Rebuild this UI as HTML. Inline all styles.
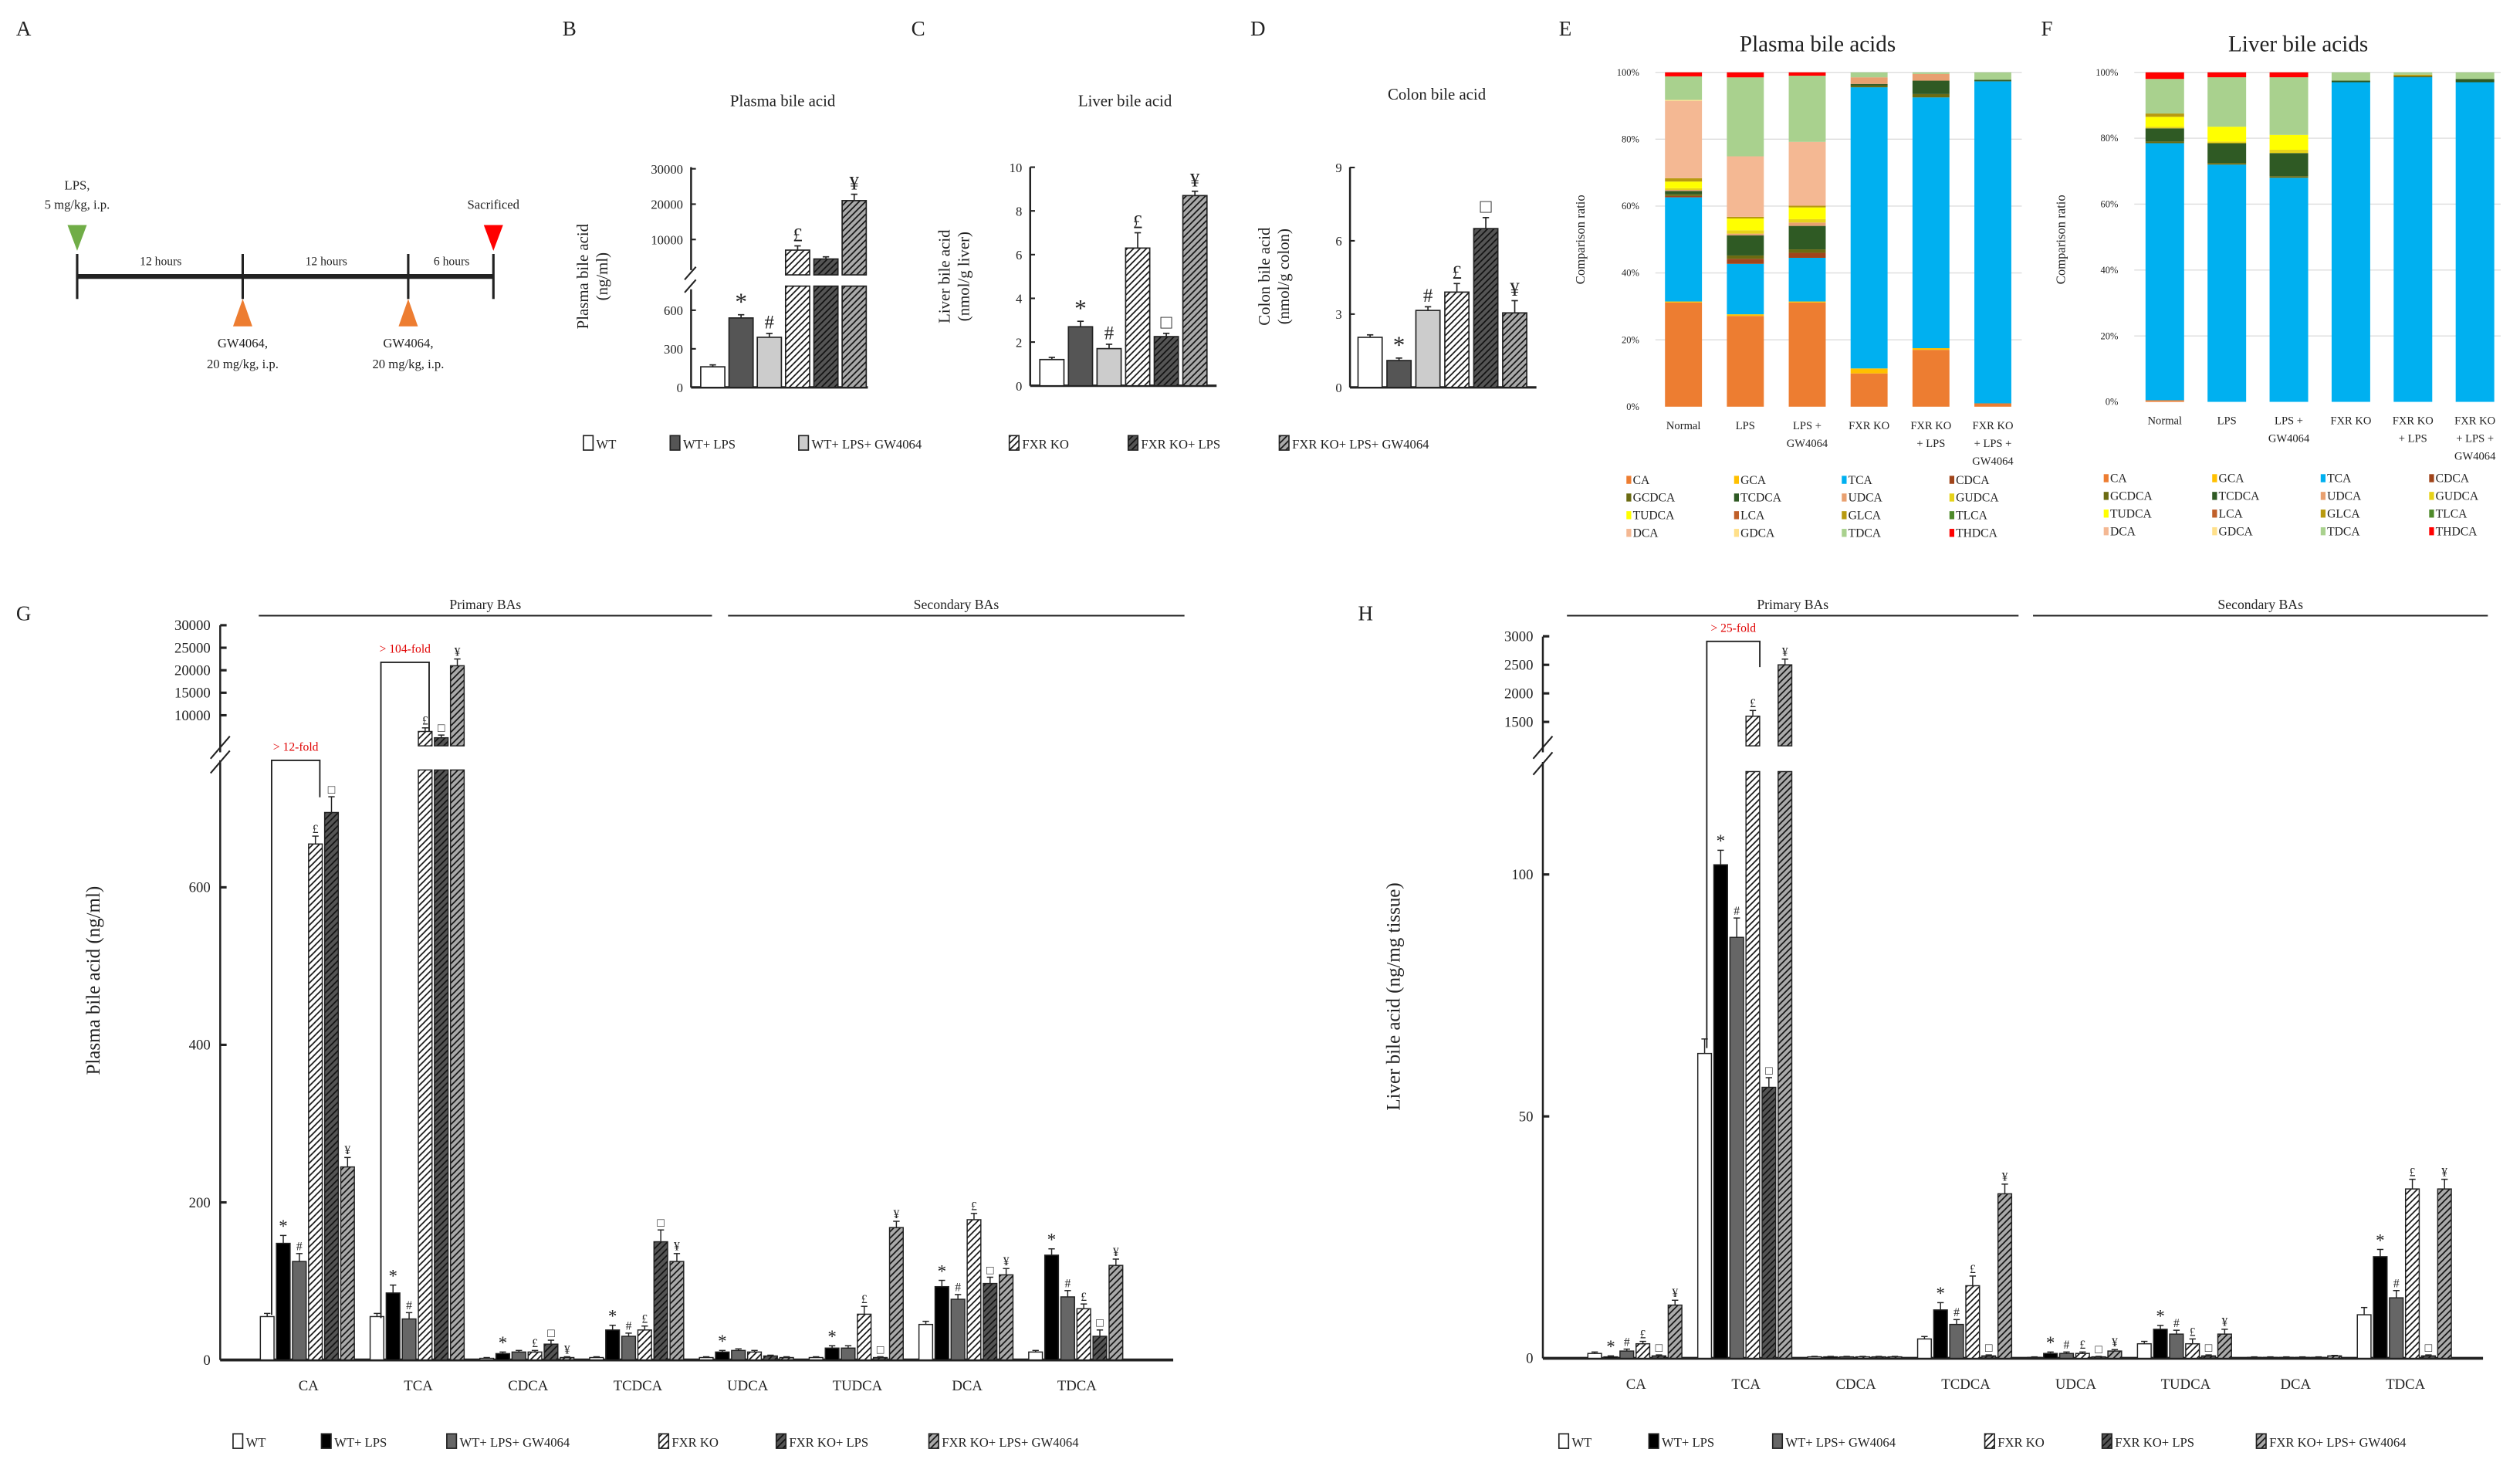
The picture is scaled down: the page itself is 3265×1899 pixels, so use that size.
<!DOCTYPE html>
<html><head><meta charset="utf-8">
<style>
html,body{margin:0;padding:0;background:#fff;}
svg{display:block;font-family:"Liberation Serif",serif;}
</style></head>
<body>
<svg id="fig" width="3265" height="1899" viewBox="0 0 1568 912" xmlns="http://www.w3.org/2000/svg">
<defs>
<pattern id="hW" patternUnits="userSpaceOnUse" width="4" height="4"><rect width="4" height="4" fill="#fff"/><path d="M-1,5 L5,-1 M-1,1 L1,-1 M3,5 L5,3" stroke="#111" stroke-width="0.8"/></pattern>
<pattern id="hD" patternUnits="userSpaceOnUse" width="4" height="4"><rect width="4" height="4" fill="#555"/><path d="M-1,5 L5,-1 M-1,1 L1,-1 M3,5 L5,3" stroke="#111" stroke-width="0.8"/></pattern>
<pattern id="hL" patternUnits="userSpaceOnUse" width="4" height="4"><rect width="4" height="4" fill="#aaa"/><path d="M-1,5 L5,-1 M-1,1 L1,-1 M3,5 L5,3" stroke="#111" stroke-width="0.8"/></pattern>
</defs>
<g id="root"></g>
</svg>
<script>
// ---------- data ----------
const groupNames = ['WT','WT+ LPS','WT+ LPS+ GW4064','FXR KO','FXR KO+ LPS','FXR KO+ LPS+ GW4064'];
const plasmaTotal = [160,540,390,7000,4500,21000];
const plasmaErr = [15,25,30,1200,600,1800];
const plasmaMarks = ['','*','#','£','','¥'];
const liverTotal = [1.2,2.7,1.7,6.3,2.25,8.7];
const liverErr = [0.1,0.25,0.2,0.7,0.15,0.2];
const liverMarks = ['','*','#','£','□','¥'];
const colonTotal = [2.05,1.1,3.15,3.9,6.5,3.05];
const colonErr = [0.1,0.1,0.15,0.35,0.45,0.5];
const colonMarks = ['','*','#','£','□','¥'];

const compCategories = ['Normal','LPS','LPS +|GW4064','FXR KO','FXR KO|+ LPS','FXR KO|+ LPS +|GW4064'];
const species = ['CA','GCA','TCA','CDCA','GCDCA','TCDCA','UDCA','GUDCA','TUDCA','LCA','GLCA','TLCA','DCA','GDCA','TDCA','THDCA'];
const speciesColors = ['#ED7D31','#FFC000','#00B0F0','#A0441A','#6B6B12','#2F5A24','#E8A070','#E6D21A','#FFFF00','#C0602A','#B89A10','#4E8A2A','#F4B893','#FFE08A','#A9D18E','#FF0000'];
const plasmaComp = [
 [31,27,31,10,17,1],[0.3,0.5,0.3,1.5,0.5,0],[31,15,13,84.5,75,96.3],[0.4,1.5,1.5,0,0,0],
 [0.5,1,1,0.5,1,0],[1,6,7,0.5,4,0.5],[0.3,0.5,1,2,2,0],[0.5,1,1,0,0,0],
 [2,3.5,3.5,0,0,0],[0,0,0,0,0,0],[1,0.5,0.5,0,0,0],[0,0,0,0,0,0],
 [23,18,19,0,0,0],[0.3,0,0,0,0,0],[7,23.5,19.7,1.5,0.5,2.2],[1.2,1.5,1,0,0,0]];
const liverComp = [
 [0.5,0,0,0,0,0],[0,0,0,0,0,0],[78,72,68,97,98.5,97],[0,0,0,0,0,0],
 [0.5,0.5,0.5,0,0,0],[4,6,7,0.5,0.3,1],[0,0,0,0,0,0],[0.5,0.5,1,0,0,0],
 [3,4.5,4.5,0,0,0],[0,0,0,0,0,0],[1,0,0,0,0.5,0],[0,0,0,0,0,0],
 [0,0,0,0,0,0],[0,0,0,0,0,0],[10.5,15,17.5,2.5,0.7,2],[2,1.5,1.5,0,0,0]];
const pctTicks = ['0%','20%','40%','60%','80%','100%'];

const baCategories = ['CA','TCA','CDCA','TCDCA','UDCA','TUDCA','DCA','TDCA'];
const gWT   = [55,55,2,3,3,3,45,10];
const gLPS  = [148,85,8,38,10,15,93,133];
const gGW   = [125,52,10,30,12,15,77,80];
const gKO   = [655,6400,10,38,10,58,178,65];
const gKOL  = [695,5000,20,150,5,3,97,30];
const gKOLG = [245,21000,3,125,3,168,108,120];
const gErrWT=[4,4,1,1,1,1,4,2], gErrLPS=[10,10,2,6,2,3,8,8], gErrGW=[10,8,2,4,2,3,6,8];
const gErrKO=[10,800,2,5,2,10,8,6], gErrKOL=[20,600,5,15,1,1,8,8], gErrKOLG=[12,1500,1,10,1,8,8,8];
const gMarks = [['','','','','','','',''],['*','*','*','*','*','*','*','*'],['#','#','','#','','','#','#'],
 ['£','£','£','£','','£','£','£'],['□','□','□','□','','□','□','□'],['¥','¥','¥','¥','','¥','¥','¥']];
const gTicksLow = [0,200,400,600];
const gTicksUp = [10000,15000,20000,25000,30000];

const hWT   = [1,63,0.3,4,0.2,3,0.2,9];
const hLPS  = [0.3,102,0.3,10,1,6,0.2,21];
const hGW   = [1.5,87,0.3,7,1,5,0.2,12.5];
const hKO   = [3,1600,0.3,15,1,3,0.2,35];
const hKOL  = [0.5,56,0.3,0.5,0.3,0.5,0.2,0.5];
const hKOLG = [11,2500,0.3,34,1.5,5,0.5,35];
const hErrWT=[0.3,3,0.1,0.5,0.1,0.5,0.1,1.5], hErrLPS=[0.2,3,0.1,1.5,0.3,0.8,0.1,1.5], hErrGW=[0.4,4,0.1,1,0.3,0.8,0.1,1.5];
const hErrKO=[0.5,100,0.1,2,0.3,1,0.1,2], hErrKOL=[0.2,2,0.1,0.2,0.1,0.2,0.1,0.2], hErrKOLG=[1,100,0.1,2,0.3,1,0.1,2];
const hMarks = [['','','','','','','',''],['*','*','','*','*','*','','*'],['#','#','','#','#','#','','#'],
 ['£','£','','£','£','£','','£'],['□','□','','□','□','□','','□'],['¥','¥','','¥','¥','¥','','¥']];
const hTicksLow = [0,50,100];
const hTicksUp = [1500,2000,2500,3000];

// ---------- helpers ----------
const NS='http://www.w3.org/2000/svg';
const root=document.getElementById('root');
function el(tag,attrs,parent,txt){const e=document.createElementNS(NS,tag);for(const k in attrs)e.setAttribute(k,attrs[k]);if(txt!==undefined)e.textContent=txt;(parent||root).appendChild(e);return e;}
function grp(name,parent){const g=el('g',{},parent);


return g;}
function txt(parent,name,x,y,s,size,anchor,extra){const t=el('text',Object.assign({x:x,y:y,'font-size':size,'text-anchor':anchor||'middle',fill:'#222'},extra||{}),parent,s);


return t;}
function line(p,x1,y1,x2,y2,w,c){return el('line',{x1:x1,y1:y1,x2:x2,y2:y2,stroke:c||'#222','stroke-width':w||1},p);}

const fillsBCD=['#fff','#555','#ccc','url(#hW)','url(#hD)','url(#hL)'];
const fillsGH=['#fff','#000','#666','url(#hW)','url(#hD)','url(#hL)'];

function makeScale(c){return function(v){
  if(!c.up||v<=c.lowMax) return {low:c.y0-v*c.lowK, up:null};
  return {low:c.lowTop, up:c.upY0-(v-c.upV0)*c.upK};
};}

// ---------- panel letters ----------
[['A',10,22],['B',350,22],['C',567,22],['D',778,22],['E',970,22],['F',1270,22],['G',10,386],['H',845,386]].forEach(p=>{
  txt(root,'panel-label-'+p[0].toLowerCase(),p[1],p[2],p[0],13,'start');
});

// ---------- Panel A timeline ----------
(function(){
  const g=grp('timeline-panel-a');
  line(g,48,172,307,172,3);
  [48,151,254,307].forEach(x=>line(g,x,158,x,186,1.5));
  [[100,'12 hours'],[203,'12 hours'],[281,'6 hours']].forEach(a=>txt(g,'interval-label',a[0],165,a[1],7.5));
  const tri=(pts,c,n)=>{const p=el('polygon',{points:pts,fill:c},g);
  
  };
  tri('42,140 54,140 48,156','#70AD47','lps-marker');
  tri('301,140 313,140 307,156','#FF0000','sacrifice-marker');
  tri('145,203 157,203 151,186','#ED7D31','gw4064-marker-1');
  tri('248,203 260,203 254,186','#ED7D31','gw4064-marker-2');
  txt(g,'lps-label',48,118,'LPS,',8);txt(g,'lps-dose',48,130,'5 mg/kg, i.p.',8);
  txt(g,'sacrificed-label',307,130,'Sacrificed',8);
  [151,254].forEach(x=>{txt(g,'gw4064-label',x,216,'GW4064,',8);txt(g,'gw4064-dose',x,229,'20 mg/kg, i.p.',8);});
})();

// ---------- simple bar charts B/C/D ----------
function barChart(name,cfg,vals,errs,marks){
  const g=grp(name);
  const sc=makeScale(cfg);
  txt(g,'chart-title',cfg.titleX,cfg.titleY,cfg.title,10);
  const yl=el('text',{transform:`translate(${cfg.ylX},${cfg.ylY}) rotate(-90)`,'font-size':10,'text-anchor':'middle',fill:'#222'},g);
  
  
  cfg.ylab.forEach((s,i)=>{el('tspan',{x:0,dy:i?12:0},yl,s);});
  if(cfg.up){
    line(g,cfg.ax,cfg.y0,cfg.ax,cfg.lowTop+2,1.2);
    line(g,cfg.ax,cfg.upY0-3,cfg.ax,cfg.upTopY,1.2);
    line(g,cfg.ax-4,cfg.lowTop+4,cfg.ax+3,cfg.lowTop-4,1);
    line(g,cfg.ax-4,cfg.upY0+3,cfg.ax+3,cfg.upY0-5,1);
  } else line(g,cfg.ax,cfg.y0,cfg.ax,cfg.topY,1.2);
  line(g,cfg.ax,cfg.y0,cfg.xEnd,cfg.y0,1.5);
  cfg.ticks.forEach(t=>{const y=cfg.y0-t*cfg.lowK;line(g,cfg.ax,y,cfg.ax+3,y,1);txt(g,'y-tick-label',cfg.ax-5,y+3,String(t),8,'end');});
  (cfg.upTicks||[]).forEach(t=>{const y=cfg.upY0-(t-cfg.upV0)*cfg.upK;line(g,cfg.ax,y,cfg.ax+3,y,1);txt(g,'y-tick-label',cfg.ax-5,y+3,String(t),8,'end');});
  vals.forEach((v,i)=>{
    const x=cfg.bx+i*cfg.pitch, w=cfg.bw, s=sc(v);
    const r=el('rect',{x:x,y:s.low,width:w,height:cfg.y0-s.low,fill:fillsBCD[i],stroke:'#222','stroke-width':0.8},g);
    
    
    let top=s.low;
    if(s.up!==null){
      const r2=el('rect',{x:x,y:s.up,width:w,height:cfg.upY0-s.up,fill:fillsBCD[i],stroke:'#222','stroke-width':0.8},g);
      
      
      top=s.up;
    }
    const e=errs[i]*(s.up!==null?cfg.upK:cfg.lowK), cx=x+w/2;
    line(g,cx,top,cx,top-e,0.8);line(g,cx-2,top-e,cx+2,top-e,0.8);
    if(marks[i])txt(g,'significance-mark',cx,top-e-3,marks[i],marks[i]=='*'?15:12);
  });
}
barChart('plasma-bile-acid-chart',{title:'Plasma bile acid',titleX:487,titleY:66,ylab:['Plasma bile acid','(ng/ml)'],ylX:366,ylY:172,
  ax:430,xEnd:540,y0:241,lowK:0.08,lowMax:780,lowTop:178,up:true,upY0:171,upV0:0,upK:0.0022,upTopY:104,
  ticks:[0,300,600],upTicks:[10000,20000,30000],bx:436,pitch:17.6,bw:15},plasmaTotal,plasmaErr,plasmaMarks);
barChart('liver-bile-acid-chart',{title:'Liver bile acid',titleX:700,titleY:66,ylab:['Liver bile acid','(nmol/g liver)'],ylX:591,ylY:172,
  ax:641,xEnd:757,y0:240,lowK:13.6,topY:104,ticks:[0,2,4,6,8,10],bx:647,pitch:17.8,bw:15},liverTotal,liverErr,liverMarks);
barChart('colon-bile-acid-chart',{title:'Colon bile acid',titleX:894,titleY:62,ylab:['Colon bile acid','(nmol/g colon)'],ylX:790,ylY:172,
  ax:840,xEnd:956,y0:241,lowK:15.2,topY:104,ticks:[0,3,6,9],bx:845,pitch:18,bw:15},colonTotal,colonErr,colonMarks);

function legendRow(name,items,y,fills){
  const g=grp(name);
  items.forEach((it,i)=>{
    const r=el('rect',{x:it[0],y:y-8,width:6,height:9,fill:fills[i],stroke:'#222','stroke-width':0.8},g);
    
    
    txt(g,'legend-entry',it[0]+8,y,groupNames[i],8,'start');
  });
}
legendRow('legend-bcd',[[363],[417],[497],[628],[702],[796]],279,fillsBCD);

// ---------- stacked composition charts ----------
function stacked(name,cfg,comp){
  const g=grp(name);
  txt(g,'chart-title',cfg.titleX,32,cfg.title,14);
  txt(g,'y-axis-title',0,0,'Comparison ratio',8,'middle',{transform:`translate(${cfg.ylX},149) rotate(-90)`});
  const k=(cfg.y0-cfg.y100)/100;
  pctTicks.forEach((t,i)=>{const y=cfg.y0-i*20*k;
    if(i>0){line(g,cfg.x0,y,cfg.x1,y,0.7,'#ddd');}
    txt(g,'y-tick-label',cfg.tx,y+2,t,6,'end');});
  compCategories.forEach((c,j)=>{
    let tot=0;comp.forEach(s=>tot+=s[j]);
    let acc=0;const x=cfg.bx+j*cfg.pitch;
    comp.forEach((s,i)=>{ if(!s[j])return;
      const h=s[j]/tot*100*k, y=cfg.y0-acc-h;
      const r=el('rect',{x:x,y:y,width:cfg.bw,height:h,fill:speciesColors[i]},g);
      
      
      acc+=h;});
    c.split('|').forEach((s,li)=>txt(g,'x-tick-label',x+cfg.bw/2,cfg.y0+14+li*11,s,7));
  });
  species.forEach((s,i)=>{
    const col=i%4,row=Math.floor(i/4),x=cfg.lx+col*cfg.lp,y=cfg.ly+row*11;
    const r=el('rect',{x:x,y:y-5,width:3,height:5,fill:speciesColors[i]},g);
    
    
    txt(g,'legend-entry',x+4,y,s,7.5,'start');
  });
}
stacked('plasma-composition-chart',{title:'Plasma bile acids',titleX:1131,ylX:986,y0:253,y100:45,x0:1030,x1:1258,tx:1020,bx:1036,pitch:38.5,bw:23,lx:1012,lp:67,ly:301},plasmaComp);
stacked('liver-composition-chart',{title:'Liver bile acids',titleX:1430,ylX:1285,y0:250,y100:45,x0:1328,x1:1556,tx:1318,bx:1335,pitch:38.6,bw:24,lx:1309,lp:67.5,ly:300},liverComp);

// ---------- grouped charts G/H ----------
function grouped(name,cfg,series,errs,marks){
  const g=grp(name);
  const sc=makeScale(cfg);
  txt(g,'y-axis-title',0,0,cfg.ylab,12,'middle',{transform:`translate(${cfg.ylX},${cfg.ylY}) rotate(-90)`});
  line(g,cfg.ax,cfg.y0,cfg.ax,cfg.lowTop-6,1.2);
  line(g,cfg.ax,cfg.upY0+4,cfg.ax,cfg.upTopY,1.2);
  line(g,cfg.ax-6,cfg.lowTop+2,cfg.ax+6,cfg.lowTop-12,1);
  line(g,cfg.ax-6,cfg.upY0+8,cfg.ax+6,cfg.upY0-6,1);
  line(g,cfg.ax,cfg.y0,cfg.xEnd,cfg.y0,1.8);
  cfg.ticksLow.forEach(t=>{const y=cfg.y0-t*cfg.lowK;line(g,cfg.ax,y,cfg.ax+4,y,1.5);txt(g,'y-tick-label',cfg.ax-6,y+3,String(t),9,'end');});
  cfg.ticksUp.forEach(t=>{const y=cfg.upY0-(t-cfg.upV0)*cfg.upK;line(g,cfg.ax,y,cfg.ax+4,y,1.5);txt(g,'y-tick-label',cfg.ax-6,y+3,String(t),9,'end');});
  baCategories.forEach((c,ci)=>{
    const cx=cfg.c0+ci*cfg.cp;
    txt(g,'x-tick-label',cx,cfg.y0+19,c,9);
    series.forEach((arr,si)=>{
      const v=arr[ci],x=cx-3*cfg.pitch+si*cfg.pitch,w=cfg.bw,s=sc(v);
      const r=el('rect',{x:x,y:s.low,width:w,height:Math.max(0.5,cfg.y0-s.low),fill:fillsGH[si],stroke:'#222','stroke-width':0.7},g);
      
      
      let top=s.low,k=cfg.lowK;
      if(s.up!==null){
        const r2=el('rect',{x:x,y:s.up,width:w,height:cfg.upY0-s.up,fill:fillsGH[si],stroke:'#222','stroke-width':0.7},g);
        
        
        top=s.up;k=cfg.upK;
      }
      const e=errs[si][ci]*k,bx=x+w/2;
      line(g,bx,top,bx,top-e,0.7);line(g,bx-2,top-e,bx+2,top-e,0.7);
      const m=marks[si][ci];
      if(m)txt(g,'significance-mark',bx,top-e-2,m,m=='*'?11:7.5);
    });
  });
  line(g,cfg.pL[0],383,cfg.pL[1],383,1);
  line(g,cfg.sL[0],383,cfg.sL[1],383,1);
  txt(g,'primary-bas-label',(cfg.pL[0]+cfg.pL[1])/2,379,'Primary BAs',8.5);
  txt(g,'secondary-bas-label',(cfg.sL[0]+cfg.sL[1])/2,379,'Secondary BAs',8.5);
  cfg.brackets.forEach(b=>{
    el('polyline',{points:`${b[0]},${b[2]} ${b[0]},${b[1]} ${b[3]},${b[1]} ${b[3]},${b[4]}`,fill:'none',stroke:'#222','stroke-width':0.9},g);
    txt(g,'fold-change-annotation',(b[0]+b[3])/2,b[1]-6,b[5],7.5,'middle',{fill:'#e00000'});
  });
}
grouped('plasma-bile-acid-species-chart',{ylab:'Plasma bile acid (ng/ml)',ylX:62,ylY:610,ax:137,xEnd:730,y0:846,lowK:0.49,lowMax:749,lowTop:479,up:true,
  upY0:464,upV0:3200,upK:0.0028,upTopY:389,ticksLow:gTicksLow,ticksUp:gTicksUp,c0:192,cp:68.3,pitch:10,bw:8.5,
  pL:[161,443],sL:[453,737],brackets:[[169,473,818,199,496,'> 12-fold'],[237,412,820,267,455,'> 104-fold']]},
  [gWT,gLPS,gGW,gKO,gKOL,gKOLG],[gErrWT,gErrLPS,gErrGW,gErrKO,gErrKOL,gErrKOLG],gMarks);
grouped('liver-bile-acid-species-chart',{ylab:'Liver bile acid (ng/mg tissue)',ylX:871,ylY:620,ax:960,xEnd:1545,y0:845,lowK:3.01,lowMax:121,lowTop:480,up:true,
  upY0:464,upV0:1080,upK:0.0355,upTopY:396,ticksLow:hTicksLow,ticksUp:hTicksUp,c0:1018,cp:68.4,pitch:10,bw:8.5,
  pL:[975,1256],sL:[1265,1548],brackets:[[1062,399,652,1095,415,'> 25-fold']]},
  [hWT,hLPS,hGW,hKO,hKOL,hKOLG],[hErrWT,hErrLPS,hErrGW,hErrKO,hErrKOL,hErrKOLG],hMarks);

legendRow('legend-g',[[145],[200],[278],[410],[483],[578]],900,fillsGH);
legendRow('legend-h',[[970],[1026],[1103],[1235],[1308],[1404]],900,fillsGH);
</script>
</body></html>
